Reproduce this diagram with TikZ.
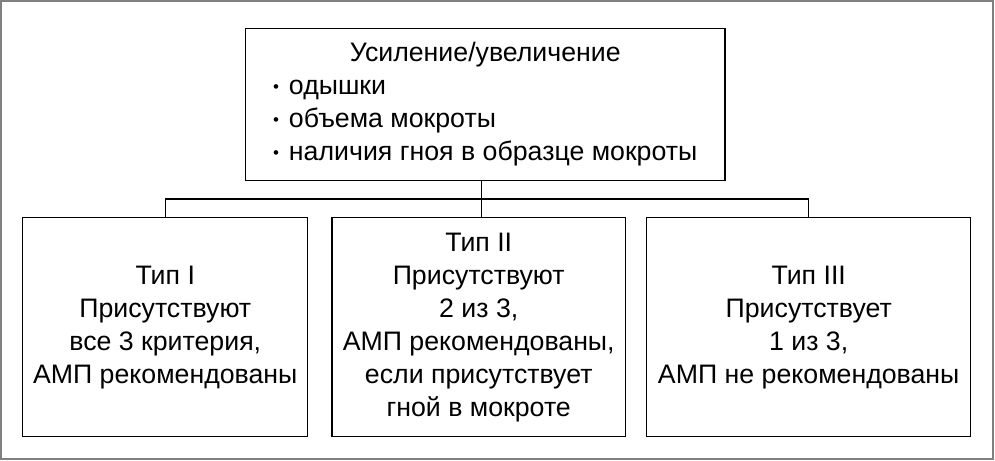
\documentclass[tikz,border=0pt]{standalone}
\usepackage{fontspec}
\setmainfont{Liberation Sans}
\usetikzlibrary{positioning}
\newcommand{\dotitem}{\raisebox{1.8pt}{\fontsize{12}{12}\selectfont•}\hspace{7pt}}

\begin{document}
\begin{tikzpicture}[x=0.025cm,y=-0.025cm,
        box/.style={draw, line width=1pt, align=center, inner sep=0pt,
            minimum height=5.475cm, font=\fontsize{19}{23.5}\selectfont},
        link/.style={line width=1pt}]
        \useasboundingbox (0,0) rectangle (995,461);
        \draw[gray, line width=1.4pt] (1,1) rectangle (993,459);
        % top box
        \node[box, anchor=north west, minimum width=11.975cm, minimum height=3.8cm] (gain) at (245,28)
            {\begin{tabular}{@{}l@{}}
                \multicolumn{1}{@{}c@{}}{Усиление/увеличение}\\
                \dotitem одышки\\
                \dotitem объема мокроты\\
                \dotitem наличия гноя в образце мокроты
            \end{tabular}};
        % three types
        \node[box, anchor=north west, minimum width=7.125cm] (typeI) at (22,217)
            {Тип I\\Присутствуют\\все 3 критерия,\\АМП рекомендованы};
        \node[box, right=0.575cm of typeI, minimum width=7.325cm] (typeII)
            {Тип II\\Присутствуют\\2 из 3,\\АМП рекомендованы,\\если присутствует\\гной в мокроте};
        \node[box, right=0.5cm of typeII, minimum width=8.1cm] (typeIII)
            {Тип III\\Присутствует\\1 из 3,\\АМП не рекомендованы};
        % connectors
        \draw[link] (gain.south) ++(-4,0) coordinate (stem) -- (stem |- typeII.north);
        \draw[link] (typeI.north) -- ++(0,-18) -| (typeIII.north);
    \end{tikzpicture}
\end{document}
